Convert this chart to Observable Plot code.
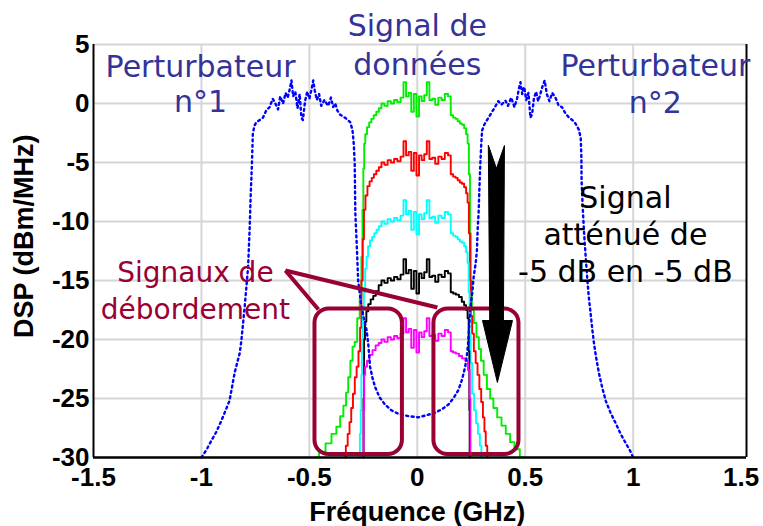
<!DOCTYPE html>
<html><head><meta charset="utf-8">
<script src="https://cdn.jsdelivr.net/npm/d3@7"></script>
<script src="https://cdn.jsdelivr.net/npm/@observablehq/plot@0.6"></script>
<style>html,body{margin:0;padding:0;background:#fff;} #chart svg{display:block}</style>
</head><body><div id="chart"></div>
<script>
// ---- axes ----
const xTicks = [-1.5, -1, -0.5, 0, 0.5, 1, 1.5];
const yTicks = [5, 0, -5, -10, -15, -20, -25, -30];
const xGrid = [-1, -0.5, 0, 0.5, 1];
const yGrid = [5, 0, -5, -10, -15, -20, -25];
const xDomain = [-1.5, 1.525];
const yDomain = [-30, 5];

// ---- noisy flat top of the data signal (GHz) ----
const topX = [-0.16,-0.145,-0.13,-0.115,-0.1,-0.085,-0.07,-0.058,-0.046,-0.034,-0.022,-0.01,0.002,0.014,0.026,0.038,0.05,0.062,0.076,0.09,0.105,0.12,0.135,0.15,0.16];
const greenTop   = [0.0,-0.2,0.2,0.0,0.3,0.1,0.5,1.8,0.6,0.9,-0.7,0.8,-1.1,0.6,0.2,0.7,1.8,0.3,0.4,-0.1,0.5,0.3,0.8,0.6,-1.0];
const redTop     = [-5.0,-5.2,-4.8,-5.0,-4.7,-4.9,-4.5,-3.2,-4.4,-4.1,-5.7,-4.2,-6.1,-4.4,-4.8,-4.3,-3.2,-4.7,-4.6,-5.1,-4.5,-4.7,-4.2,-4.4,-6.0];
const cyanTop    = [-10.0,-10.2,-9.8,-10.0,-9.7,-9.9,-9.5,-8.2,-9.4,-9.1,-10.7,-9.2,-11.1,-9.4,-9.8,-9.3,-8.2,-9.7,-9.6,-10.1,-9.5,-9.7,-9.2,-9.4,-11.0];
const blackTop   = [-15.0,-15.2,-14.8,-15.0,-14.7,-14.9,-14.5,-13.2,-14.4,-14.1,-15.7,-14.2,-16.1,-14.4,-14.8,-14.3,-13.2,-14.7,-14.6,-15.1,-14.5,-14.7,-14.2,-14.4,-16.0];
const magentaTop = [-20.0,-20.2,-19.8,-20.0,-19.7,-19.9,-19.5,-18.2,-19.4,-19.1,-20.7,-19.2,-21.1,-19.4,-19.8,-19.3,-18.2,-19.7,-19.6,-20.1,-19.5,-19.7,-19.2,-19.4,-21.0];

// ---- edges / overflow skirts [GHz, dBm/MHz] ----
const greenLeft = [[-0.47,-30],[-0.44,-29.5],[-0.41,-28.8],[-0.385,-28],[-0.365,-27.4],[-0.35,-26.5],[-0.335,-25.6],[-0.325,-24.5],[-0.315,-23.2],[-0.305,-21.8],[-0.295,-20.6],[-0.285,-20.2],[-0.272,-18.2],[-0.262,-16.5],[-0.256,-13],[-0.252,-9],[-0.248,-5.5],[-0.244,-3.4],[-0.238,-2.6],[-0.228,-2.0],[-0.218,-1.6],[-0.208,-1.3],[-0.196,-1.0],[-0.184,-0.7],[-0.172,-0.4]];
const greenRight = [[0.172,-1.2],[0.182,-1.3],[0.192,-1.5],[0.202,-1.7],[0.212,-1.8],[0.222,-2.1],[0.23,-2.6],[0.236,-3.4],[0.242,-6],[0.246,-11],[0.25,-15],[0.256,-17.5],[0.268,-18.6],[0.28,-19.8],[0.29,-20.8],[0.3,-21.8],[0.315,-23],[0.33,-24.2],[0.345,-25],[0.36,-25.8],[0.38,-26.6],[0.4,-27.3],[0.42,-28],[0.44,-28.7],[0.46,-29.3],[0.49,-30]];
const redLeft = [[-0.335,-30],[-0.327,-29],[-0.318,-28],[-0.31,-27],[-0.302,-25.8],[-0.294,-24.6],[-0.285,-23.2],[-0.277,-22.3],[-0.268,-21],[-0.262,-19],[-0.256,-15],[-0.25,-11.5],[-0.244,-9],[-0.236,-7.8],[-0.226,-7.0],[-0.216,-6.6],[-0.206,-6.3],[-0.196,-6.0],[-0.184,-5.7],[-0.172,-5.4]];
const redRight = [[0.172,-6.2],[0.182,-6.3],[0.192,-6.5],[0.202,-6.7],[0.212,-6.8],[0.222,-7.1],[0.23,-7.6],[0.236,-8.4],[0.242,-11],[0.246,-15],[0.25,-18],[0.258,-19.5],[0.266,-21],[0.275,-22],[0.283,-23],[0.292,-24.2],[0.3,-25.3],[0.308,-26.6],[0.314,-27.8],[0.32,-29],[0.328,-30]];
const cyanLeft = [[-0.268,-30],[-0.264,-28],[-0.26,-26],[-0.258,-23],[-0.255,-20],[-0.25,-17.5],[-0.245,-16],[-0.238,-14],[-0.232,-13],[-0.224,-12.1],[-0.214,-11.6],[-0.204,-11.3],[-0.194,-11.0],[-0.184,-10.7],[-0.172,-10.4]];
const cyanRight = [[0.172,-11.2],[0.182,-11.3],[0.192,-11.5],[0.202,-11.7],[0.212,-11.8],[0.222,-12.1],[0.23,-12.6],[0.236,-13.5],[0.24,-16],[0.244,-19.5],[0.25,-22],[0.258,-24.6],[0.268,-26],[0.276,-27.1],[0.286,-28],[0.294,-29],[0.3,-30]];
const blackLeft = [[-0.25,-30],[-0.248,-25],[-0.245,-20],[-0.24,-18.5],[-0.232,-17.6],[-0.222,-17],[-0.21,-16.6],[-0.198,-16.3],[-0.186,-15.9],[-0.172,-15.4]];
const blackRight = [[0.172,-16.1],[0.186,-16.2],[0.2,-16.4],[0.212,-16.8],[0.222,-17.1],[0.23,-17.5],[0.236,-18.2],[0.24,-21],[0.242,-26],[0.243,-30]];
const magentaLeft = [[-0.25,-30],[-0.248,-26],[-0.245,-23],[-0.238,-22.3],[-0.228,-21.8],[-0.215,-21.3],[-0.2,-20.9],[-0.186,-20.5],[-0.172,-20.3]];
const magentaRight = [[0.172,-21.1],[0.186,-21.2],[0.2,-21.4],[0.215,-21.6],[0.23,-21.8],[0.24,-22.6],[0.245,-25],[0.247,-30]];

// ---- interferers (blue dotted) [GHz, dBm/MHz] ----
const perturb = [[-1.0,-30],[-0.975,-29.3],[-0.955,-28.6],[-0.93,-27.8],[-0.908,-26.9],[-0.888,-26],[-0.87,-25.2],[-0.858,-24],[-0.847,-22.9],[-0.835,-22],[-0.823,-21.2],[-0.815,-20.1],[-0.808,-18.8],[-0.8,-17.3],[-0.792,-15.6],[-0.784,-13.9],[-0.777,-10.8],[-0.772,-7.9],[-0.766,-5.1],[-0.762,-2.6],[-0.755,-1.9],[-0.746,-1.6],[-0.73,-1.4],[-0.715,-1.2],[-0.7,-0.6],[-0.684,-0.3],[-0.67,0.4],[-0.66,0.1],[-0.645,-0.5],[-0.635,0.6],[-0.622,0.0],[-0.61,0.9],[-0.6,0.5],[-0.59,1.3],[-0.583,1.95],[-0.575,0.6],[-0.565,1.0],[-0.555,-0.4],[-0.545,0.8],[-0.537,-1.2],[-0.53,-1.4],[-0.52,0.2],[-0.51,1.0],[-0.5,0.4],[-0.49,1.2],[-0.482,1.95],[-0.475,1.1],[-0.465,0.3],[-0.455,0.8],[-0.445,-0.2],[-0.43,0.3],[-0.413,-0.2],[-0.4,0.5],[-0.39,-0.3],[-0.38,0.0],[-0.37,-0.6],[-0.36,-0.9],[-0.345,-1.1],[-0.335,-1.2],[-0.322,-1.4],[-0.31,-1.6],[-0.3,-2.3],[-0.294,-3.5],[-0.29,-5.1],[-0.287,-9.3],[-0.28,-12.2],[-0.274,-15],[-0.262,-16.8],[-0.25,-18],[-0.235,-19.2],[-0.227,-20.4],[-0.219,-22.3],[-0.207,-23.3],[-0.196,-24],[-0.175,-24.9],[-0.15,-25.5],[-0.12,-26],[-0.087,-26.3],[-0.04,-26.5],[0.005,-26.6],[0.045,-26.4],[0.083,-26.2],[0.115,-25.9],[0.145,-25.5],[0.17,-24.9],[0.19,-24.3],[0.207,-23.4],[0.222,-22.3],[0.23,-21.3],[0.235,-20.4],[0.245,-17.5],[0.255,-16],[0.261,-14.7],[0.27,-13.6],[0.276,-12.5],[0.28,-10.5],[0.284,-9.3],[0.288,-7],[0.292,-5.1],[0.296,-3.5],[0.3,-2.3],[0.31,-1.8],[0.323,-1.4],[0.34,-0.9],[0.36,-0.3],[0.375,0.2],[0.39,-0.1],[0.408,0.25],[0.42,-0.2],[0.435,0.5],[0.45,-0.3],[0.462,0.4],[0.47,1.2],[0.478,1.8],[0.486,0.8],[0.495,1.4],[0.505,0.3],[0.515,0.9],[0.524,-1.2],[0.532,-0.9],[0.54,0.4],[0.55,1.0],[0.56,0.2],[0.57,0.8],[0.579,1.4],[0.59,1.95],[0.6,0.8],[0.612,0.2],[0.625,0.9],[0.64,0.5],[0.655,-0.2],[0.67,-0.3],[0.685,-0.8],[0.703,-1.2],[0.718,-1.4],[0.733,-1.7],[0.748,-2.2],[0.757,-2.9],[0.76,-4.5],[0.761,-6.5],[0.766,-8.7],[0.772,-10.8],[0.78,-13],[0.788,-15],[0.795,-16.5],[0.803,-17.8],[0.811,-19.2],[0.819,-20.4],[0.83,-21.7],[0.842,-22.9],[0.857,-24.1],[0.873,-25.2],[0.895,-26.2],[0.919,-27.1],[0.942,-28],[0.966,-28.8],[0.985,-29.4],[1.0,-30]];

// ---- series ----
const seriesNames  = ["green", "red", "cyan", "black", "magenta"];
const seriesColors = ["#00ee00", "#ff0000", "#00ffff", "#000000", "#ff00ff"];
const seriesTops   = [greenTop, redTop, cyanTop, blackTop, magentaTop];
const seriesLeft   = [greenLeft, redLeft, cyanLeft, blackLeft, magentaLeft];
const seriesRight  = [greenRight, redRight, cyanRight, blackRight, magentaRight];

// ---- annotations ----
const blueTexts = ["Signal de\ndonnées", "Perturbateur\nn°1", "Perturbateur\nn°2"];
const blueX = [0.0, -1.004, 1.103];
const blueY = [5.1, 1.7, 1.75];
const blueLH = [1.3, 1.17, 1.22];
const blackText = ["Signal\natténué de\n-5 dB en -5 dB"];
const blackTextPos = [0.964, -11.0];
const redText = ["Signaux de\ndébordement"];
const redTextPos = [-1.028, -15.7];
const xLabelPos = 0;
const boxX1 = [-0.474, 0.077];
const boxX2 = [-0.069, 0.471];
const boxYTop = -17.42;
const boxYBot = -29.75;
const calloutFrom = [-0.611, -14.15];
const calloutToX = [-0.458, 0.093];
const calloutToY = [-17.46, -17.29];
const arrowX = [0.3296, 0.3666, 0.4037, 0.399, 0.441, 0.371, 0.302, 0.334];
const arrowY = [-3.56, -5.51, -3.56, -18.39, -18.39, -23.64, -18.39, -18.39];

// build tables
const rows = [];
seriesNames.forEach((name, k) => {
  seriesLeft[k].forEach(([x, y]) => rows.push({s: name, x, y}));
  topX.forEach((x, i) => rows.push({s: name, x, y: seriesTops[k][i]}));
  seriesRight[k].forEach(([x, y]) => rows.push({s: name, x, y}));
});
const pertRows = perturb.map(([x, y]) => ({x, y}));
const boxes = boxX1.map((x1, i) => ({x1, x2: boxX2[i], y1: boxYBot, y2: boxYTop}));
const callouts = calloutToX.map((x, i) => ({x1: calloutFrom[0], y1: calloutFrom[1], x2: x, y2: calloutToY[i]}));
const arrow = arrowX.map((x, i) => ({x, y: arrowY[i]}));
const blueRows = blueTexts.map((t, i) => ({t, x: blueX[i], y: blueY[i], lh: blueLH[i]}));

const annoFont = "'DejaVu Sans', 'Noto Sans', sans-serif";
const MAROON = "#990033";
const NAVY = "#333399";

const marks = [
  Plot.ruleX(xGrid, {stroke: "#d6d6d6", strokeWidth: 2}),
  Plot.ruleY(yGrid, {stroke: "#d6d6d6", strokeWidth: 2}),
];
seriesNames.forEach((name, k) => {
  marks.push(Plot.line(rows.filter(d => d.s === name), {x: "x", y: "y", stroke: seriesColors[k], strokeWidth: 1.9, curve: "step"}));
});
marks.push(
  Plot.line(pertRows, {x: "x", y: "y", stroke: "#0000ff", strokeWidth: 2.4, strokeDasharray: "2 3.5"}),
  Plot.ruleX([xDomain[0]], {stroke: "black", strokeWidth: 2}),
  Plot.ruleX([xDomain[1]], {stroke: "black", strokeWidth: 2}),
  Plot.ruleY([yDomain[0]], {stroke: "black", strokeWidth: 2.5}),
  Plot.rect(boxes, {x1: "x1", x2: "x2", y1: "y1", y2: "y2", rx: 14, fill: "none", stroke: MAROON, strokeWidth: 4}),
  Plot.link(callouts, {x1: "x1", y1: "y1", x2: "x2", y2: "y2", stroke: MAROON, strokeWidth: 4}),
  Plot.line(arrow, {x: "x", y: "y", fill: "black", stroke: "black", strokeWidth: 1, curve: "linear-closed"}),
  ...blueRows.map(d => Plot.text([d], {x: "x", y: "y", text: "t", fill: NAVY, fontSize: 30, fontWeight: "normal", fontFamily: annoFont, lineHeight: d.lh})),
  Plot.text(blackText, {x: () => blackTextPos[0], y: () => blackTextPos[1], text: d => d, fill: "black", fontSize: 30, fontWeight: "normal", fontFamily: annoFont, lineHeight: 1.22}),
  Plot.text(redText, {x: () => redTextPos[0], y: () => redTextPos[1], text: d => d, fill: MAROON, fontSize: 28, fontWeight: "normal", fontFamily: annoFont, lineHeight: 1.32}),
  Plot.text(["Fréquence (GHz)"], {x: () => xLabelPos, frameAnchor: "bottom", dy: 55, lineAnchor: "middle", textAnchor: "middle", text: d => d, fontSize: 27, fontWeight: "bold", fill: "black"}),
  // y-axis title: anchored at the left edge of the frame, shifted into the margin
  Plot.text(["DSP (dBm/MHz)"], {frameAnchor: "left", dx: -69, dy: 87, rotate: -90, textAnchor: "start", lineAnchor: "middle", text: d => d, fontSize: 27, fontWeight: "bold", fill: "black"})
);

const chart = Plot.plot({
  width: 763,
  height: 526,
  marginLeft: 93,
  marginRight: 17,
  marginTop: 44,
  marginBottom: 69,
  x: {domain: xDomain, ticks: xTicks, tickSize: 0, tickPadding: 10, tickFormat: d => String(d), label: null},
  y: {domain: yDomain, ticks: yTicks, tickSize: 0, tickPadding: 4, tickFormat: d => String(d), label: null},
  style: {background: "white", color: "black", fontFamily: "'Liberation Sans', Arial, sans-serif", fontSize: "26px", fontWeight: "bold", overflow: "visible"},
  marks
});
document.getElementById("chart").appendChild(chart);
</script></body></html>
